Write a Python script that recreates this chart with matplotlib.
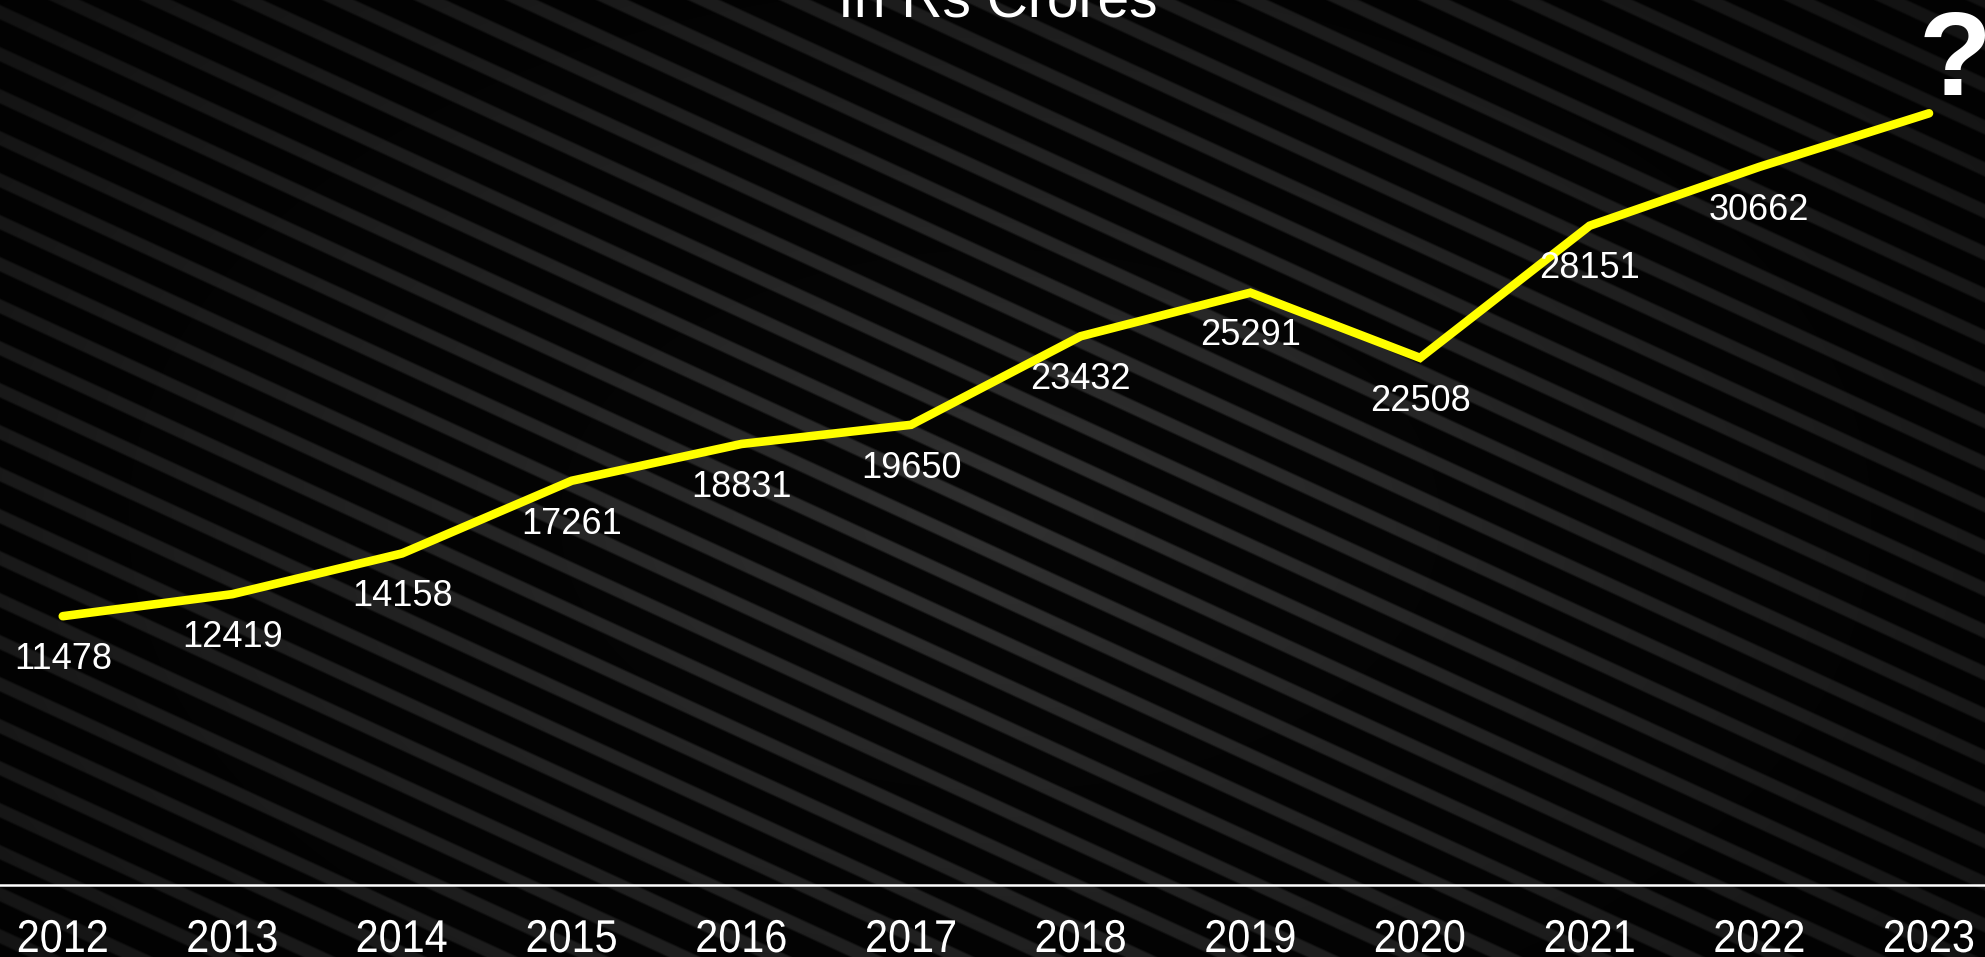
import numpy as np
import matplotlib
matplotlib.use("Agg")
import matplotlib.pyplot as plt
from matplotlib.transforms import Affine2D
from matplotlib.textpath import TextPath
from matplotlib.patches import PathPatch
from matplotlib.font_manager import FontProperties

# Yearly figures, in Rs crores
years = ["2012", "2013", "2014", "2015", "2016", "2017",
         "2018", "2019", "2020", "2021", "2022", "2023"]
revenue = [11478, 12419, 14158, 17261, 18831, 19650,
           23432, 25291, 22508, 28151, 30662, 32950]
value_labels = ["11478", "12419", "14158", "17261", "18831", "19650",
                "23432", "25291", "22508", "28151", "30662", ""]
title = "In Rs Crores"
unknown_mark = "?"

W, H = 1985, 957
DPI = 100
fig = plt.figure(figsize=(W / DPI, H / DPI), dpi=DPI)
fig.patch.set_facecolor("black")

# ---- striped, centre-lit backdrop ----
yy, xx = np.mgrid[0:H, 0:W].astype(float)
period = 42.0
d = np.mod(yy - 0.46 * xx - 12.0, period)
dist = np.minimum(d, period - d)
stripe = np.clip((8.5 - dist) / 2.5, 0, 1)
r = np.sqrt(((xx - 1000) / 1300.0) ** 2 + ((yy - 520) / 800.0) ** 2)
lit = np.clip(48 - 30 * r, 14, None)
base = np.clip(5 - 3 * r, 1, None)
img = (base + (lit - base) * stripe) / 255.0
bg = fig.add_axes([0, 0, 1, 1])
bg.imshow(img, cmap="gray", vmin=0, vmax=1, aspect="auto",
          interpolation="bilinear")
bg.axis("off")

# ---- line chart ----
ax = fig.add_axes([0, 0, 1, 1])
ax.patch.set_alpha(0)
x = np.arange(len(years))
ax.plot(x, revenue, color="#FFFF00", lw=6.2, solid_capstyle="round",
        solid_joinstyle="miter", zorder=3)
ax.set_xlim(-0.37, 11.33)
ax.set_ylim(-3074, 37788)
ax.axhline(0, color="white", lw=1.8, zorder=2)
for s in ax.spines.values():
    s.set_visible(False)
ax.set_xticks([])
ax.set_yticks([])

label_font = ["Liberation Sans", "DejaVu Sans"]
for xi, v, lab in zip(x, revenue, value_labels):
    if lab:
        ax.annotate(lab, (xi, v), xytext=(0, -38), textcoords="offset points",
                    ha="center", va="baseline", color="white", fontsize=26,
                    family=label_font)

# Year labels: slightly condensed glyphs drawn as paths
year_prop = FontProperties(family="Liberation Sans")
em_px, x_squeeze, baseline_px = 46.0, 0.9, 5.0
for xi, yr in zip(x, years):
    tp = TextPath((0, 0), yr, size=em_px, prop=year_prop)
    ext = tp.get_extents()
    cx = ax.transData.transform((xi, 0))[0]
    left = cx - x_squeeze * (ext.x0 + ext.x1) / 2
    tr = (Affine2D().scale(x_squeeze, 1).translate(left, baseline_px)
          .scale(1 / DPI) + fig.dpi_scale_trans)
    fig.patches.append(PathPatch(tp, transform=tr, facecolor="white",
                                 edgecolor="none", zorder=5))

fig.text(997.5 / W, 1 - 18 / H, title, ha="center", va="baseline",
         color="white", fontsize=41, family=label_font)
fig.text(1955 / W, 1 - 95 / H, unknown_mark, ha="center", va="baseline",
         color="white", fontsize=86, fontweight="bold", family=label_font)

fig.savefig("out.png", dpi=DPI, facecolor="black")
